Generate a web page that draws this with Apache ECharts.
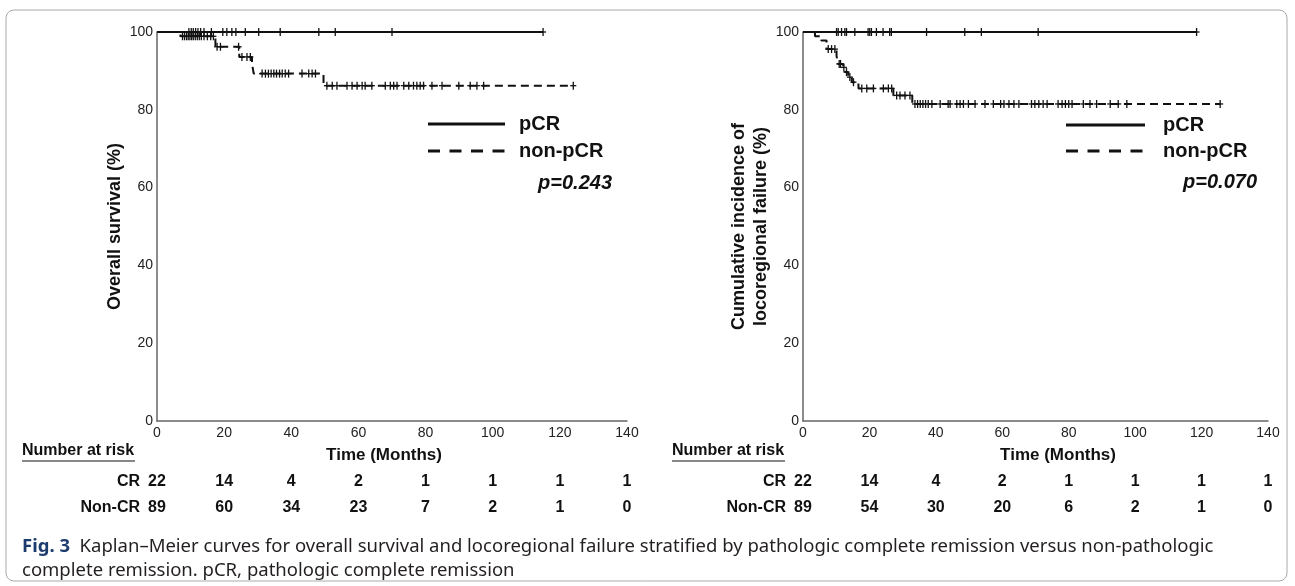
<!DOCTYPE html>
<html><head><meta charset="utf-8">
<script src="https://cdn.jsdelivr.net/npm/echarts@6/dist/echarts.min.js"></script>
<style>html,body{margin:0;padding:0;background:#fff}#c{width:1295px;height:586px}</style>
</head><body><div id="c"></div>
<script>
// ---------- data ----------
const xTicks = [0, 20, 40, 60, 80, 100, 120, 140];
const yTicks = [0, 20, 40, 60, 80, 100];

// Left panel: overall survival
const osPcrEnd = 115;
const osPcrCensor = [9.5, 10.2, 10.8, 11.5, 12.2, 13, 14, 16.2, 19.6, 20.8, 22.3, 23.5, 26.3, 30.3, 36.7, 48.2, 53.1, 70.0, 115];
const osNonEventT = [7, 17.4, 24.5, 28.3, 28.8, 49.6];
const osNonEventS = [98.9, 96.2, 93.6, 91.9, 89.3, 86.2];
const osNonEnd = 124;
const osNonCensor = [7.6, 8.2, 8.8, 9.3, 9.8, 10.3, 10.8, 11.4, 12, 12.6, 13.2, 14, 15, 16, 16.8,
  17.9, 18.9, 24.3, 25.3, 26.8, 27.8,
  31.3, 32.3, 33.2, 34, 34.8, 35.6, 36.5, 37.3, 38.2, 39.2, 43.2, 45.2, 46.2, 47.2,
  50.6, 52.2, 53.6, 56.6, 58.1, 59.6, 61.1, 62, 64, 68, 69.5, 70.5, 71.5, 73.5, 75, 76.4, 77.4, 78.4, 79.4,
  81.9, 84.9, 89.9, 93.3, 95.3, 97.3, 124];

// Right panel: locoregional failure
const lrPcrEnd = 118.5;
const lrPcrCensor = [10.1, 10.6, 11.6, 12.6, 13.1, 15.6, 19.6, 20.1, 20.6, 22.1, 24.1, 26.1, 26.6, 37.2, 48.7, 53.7, 70.8, 118.5];
const lrNonEventT = [3.6, 5.5, 7.1, 10.1, 10.6, 12.1, 12.65, 13.6, 14.7, 16.7, 27.2, 32.9];
const lrNonEventS = [98.9, 97.8, 95.6, 93.8, 91.8, 90.9, 89.7, 88.4, 87.1, 85.5, 83.7, 81.5];
const lrNonEnd = 125.6;
const lrNonCensor = [7.6, 8.6, 9.6, 10.9, 11.3, 12.3, 13.1, 14.1, 15.2,
  17.7, 19.2, 21.2, 24.2, 25.7, 26.7, 28.2, 29.2, 30.7, 32.2,
  33.7, 34.5, 35.3, 36.1, 36.9, 37.7, 38.8, 41.3, 43.7, 44.3, 46.3, 47.3, 48.3, 49.8, 51.8, 54.8, 57.3,
  59.5, 60.5, 62, 63.5, 65, 68.8, 69.8, 71, 72.3, 73.5, 76.8, 78, 79, 80, 81, 84.4, 86.4, 88.4,
  92.5, 94.9, 97.5, 125.6];

// Number at risk
const riskCrOS = [22, 14, 4, 2, 1, 1, 1, 1];
const riskNonOS = [89, 60, 34, 23, 7, 2, 1, 0];
const riskCrLR = [22, 14, 4, 2, 1, 1, 1, 1];
const riskNonLR = [89, 54, 30, 20, 6, 2, 1, 0];

// ---------- helpers ----------
function stepData(evT, evS, end) {
  const d = [[0, 100]];
  for (let i = 0; i < evT.length; i++) d.push([evT[i], evS[i]]);
  d.push([end, evS.length ? evS[evS.length - 1] : 100]);
  return d;
}
function levelAt(evT, evS, t) {
  let s = 100;
  for (let i = 0; i < evT.length; i++) if (evT[i] <= t) s = evS[i];
  return s;
}
const INK = '#111';
const F = "'Liberation Sans', Arial, sans-serif";
function curve(idx, data, dashed) {
  return {
    type: 'line', xAxisIndex: idx, yAxisIndex: idx, data: data, step: 'end',
    showSymbol: false, symbol: 'none', silent: true, z: 3,
    lineStyle: { color: INK, width: 2, type: dashed ? [8, 5] : 'solid' }
  };
}
function censors(idx, times, evT, evS) {
  return {
    type: 'custom', xAxisIndex: idx, yAxisIndex: idx, silent: true, z: 4,
    data: times.map(t => [t, levelAt(evT, evS, t)]),
    renderItem: function (params, api) {
      const p = api.coord([api.value(0), api.value(1)]);
      return { type: 'group', children: [
        { type: 'line', shape: { x1: p[0], y1: p[1] - 4, x2: p[0], y2: p[1] + 4 }, style: { stroke: INK, lineWidth: 1.3 } },
        { type: 'line', shape: { x1: p[0] - 3, y1: p[1], x2: p[0] + 3, y2: p[1] }, style: { stroke: INK, lineWidth: 1.3 } }
      ] };
    }
  };
}
function xAx(gi) {
  return {
    type: 'value', gridIndex: gi, min: 0, max: 140, interval: 20,
    axisLine: { show: true, lineStyle: { color: '#666', width: 1.5 } },
    axisTick: { show: false }, splitLine: { show: false },
    axisLabel: { fontFamily: F, fontSize: 14, color: '#222', margin: 5 }
  };
}
function yAx(gi, name, gap) {
  return {
    type: 'value', gridIndex: gi, min: 0, max: 100, interval: 20,
    name: name, nameLocation: 'middle', nameGap: gap,
    nameTextStyle: { fontFamily: F, fontSize: 18, fontWeight: 'bold', color: INK, lineHeight: 22 },
    axisLine: { show: true, lineStyle: { color: '#666', width: 1.5 } },
    axisTick: { show: false }, splitLine: { show: false },
    axisLabel: { fontFamily: F, fontSize: 14, color: '#222', margin: 4 }
  };
}

const chart = echarts.init(document.getElementById('c'), null, { renderer: 'canvas' });
chart.setOption({
  animation: false,
  backgroundColor: '#fff',
  grid: [
    { left: 157, top: 32, width: 470, height: 389 },
    { left: 803, top: 32, width: 465, height: 389 }
  ],
  xAxis: [xAx(0), xAx(1)],
  yAxis: [yAx(0, 'Overall survival (%)', 27), yAx(1, 'Cumulative incidence of\nlocoregional failure (%)', 31)],
  series: [
    curve(0, stepData([], [], osPcrEnd), false),
    curve(0, stepData(osNonEventT, osNonEventS, osNonEnd), true),
    censors(0, osPcrCensor, [], []),
    censors(0, osNonCensor, osNonEventT, osNonEventS),
    curve(1, stepData([], [], lrPcrEnd), false),
    curve(1, stepData(lrNonEventT, lrNonEventS, lrNonEnd), true),
    censors(1, lrPcrCensor, [], []),
    censors(1, lrNonCensor, lrNonEventT, lrNonEventS)
  ]
});

// ---------- annotations ----------
const g = [];
g.push({ type: 'rect', shape: { x: 6, y: 10, width: 1281, height: 571, r: 8 }, style: { fill: 'none', stroke: '#aaa', lineWidth: 1 }, silent: true });

function legend(x1, x2, tx, y1, y2, py, pRight, ptxt) {
  g.push({ type: 'line', shape: { x1: x1, y1: y1, x2: x2, y2: y1 }, style: { stroke: INK, lineWidth: 3 } });
  g.push({ type: 'line', shape: { x1: x1, y1: y2, x2: x2, y2: y2 }, style: { stroke: INK, lineWidth: 3, lineDash: [12, 9.5] } });
  g.push({ type: 'text', x: tx, y: y1, style: { text: 'pCR', font: 'bold 20px ' + F, fill: INK, textVerticalAlign: 'middle' } });
  g.push({ type: 'text', x: tx, y: y2, style: { text: 'non-pCR', font: 'bold 20px ' + F, fill: INK, textVerticalAlign: 'middle' } });
  g.push({ type: 'text', x: pRight, y: py, style: { text: ptxt, font: 'italic bold 20px ' + F, fill: INK, textAlign: 'right', textVerticalAlign: 'middle' } });
}
legend(428, 505, 519, 124, 151, 183, 612, 'p=0.243');
legend(1066, 1145, 1163, 125, 151, 182, 1257, 'p=0.070');

function riskTable(gi, crArr, nonArr, labelLeft, timeX) {
  const x0 = chart.convertToPixel({ xAxisIndex: gi }, 0);
  const RF = 'bold 16px ' + F;
  g.push({ type: 'text', x: labelLeft, y: 451, style: { text: 'Number at risk', font: RF, fill: INK, textVerticalAlign: 'middle' } });
  g.push({ type: 'line', shape: { x1: labelLeft, y1: 461, x2: labelLeft + 113, y2: 461 }, style: { stroke: INK, lineWidth: 1.2 } });
  g.push({ type: 'text', x: timeX, y: 455, style: { text: 'Time (Months)', font: 'bold 17px ' + F, fill: INK, textAlign: 'center', textVerticalAlign: 'middle' } });
  g.push({ type: 'text', x: x0 - 17, y: 482, style: { text: 'CR', font: RF, fill: INK, textAlign: 'right', textVerticalAlign: 'middle' } });
  g.push({ type: 'text', x: x0 - 17, y: 508, style: { text: 'Non-CR', font: RF, fill: INK, textAlign: 'right', textVerticalAlign: 'middle' } });
  xTicks.forEach((t, i) => {
    const px = chart.convertToPixel({ xAxisIndex: gi }, t);
    g.push({ type: 'text', x: px, y: 482, style: { text: String(crArr[i]), font: RF, fill: INK, textAlign: 'center', textVerticalAlign: 'middle' } });
    g.push({ type: 'text', x: px, y: 508, style: { text: String(nonArr[i]), font: RF, fill: INK, textAlign: 'center', textVerticalAlign: 'middle' } });
  });
}
riskTable(0, riskCrOS, riskNonOS, 22, 384);
riskTable(1, riskCrLR, riskNonLR, 672, 1058);

const CF = "18.5px 'Noto Sans', sans-serif";
g.push({ type: 'text', x: 22, y: 547, style: {
  text: '{b|Fig. 3}  Kaplan–Meier curves for overall survival and locoregional failure stratified by pathologic complete remission versus non-pathologic',
  font: CF, fill: '#231f20', textVerticalAlign: 'middle',
  rich: { b: { font: "bold 18.5px 'Noto Sans', sans-serif", fill: '#1d3c6e' } } } });
g.push({ type: 'text', x: 22, y: 571, style: {
  text: 'complete remission. pCR, pathologic complete remission',
  font: CF, fill: '#231f20', textVerticalAlign: 'middle' } });

chart.setOption({ graphic: g });
</script>
</body></html>
